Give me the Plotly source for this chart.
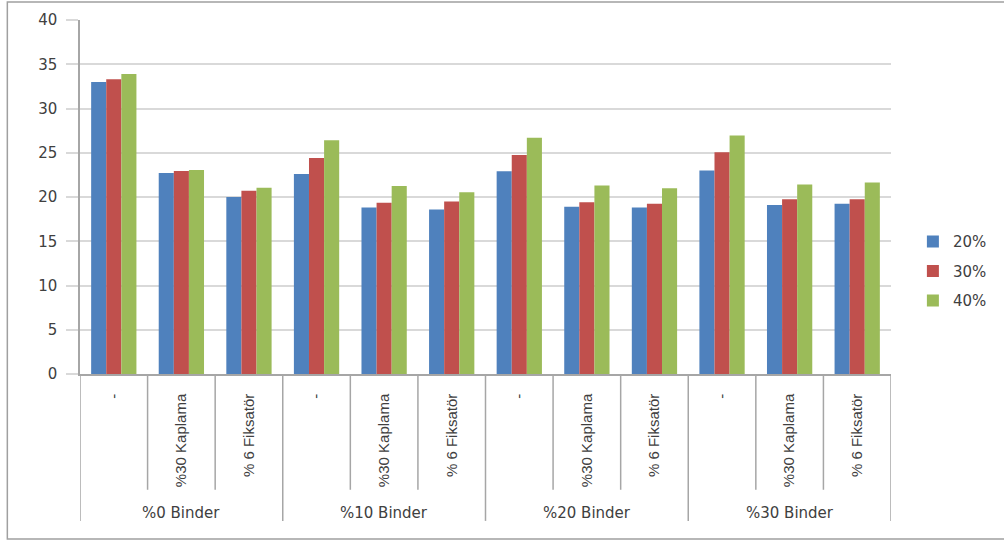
import plotly.graph_objects as go

groups = ["%0 Binder", "%10 Binder", "%20 Binder", "%30 Binder"]
subcats = ["-", "%30 Kaplama", "% 6 Fiksatör"]

series_names = ["20%", "30%", "40%"]
vals_20 = [33.0, 22.7, 20.0, 22.6, 18.8, 18.6, 22.9, 18.9, 18.8, 23.0, 19.1, 19.25]
vals_30 = [33.3, 22.95, 20.7, 24.4, 19.35, 19.5, 24.75, 19.4, 19.25, 25.05, 19.75, 19.75]
vals_40 = [33.9, 23.05, 21.05, 26.4, 21.25, 20.55, 26.7, 21.3, 21.0, 26.95, 21.4, 21.65]
colors = ["#4F81BD", "#C0504D", "#9BBB59"]

# one slot per (group, subcategory) pair
labels = [s for _ in groups for s in subcats]
pos = list(range(len(labels)))
n_sub = len(subcats)

AXIS_GRAY = "#A6A6A6"
TEXT = "#404040"

fig = go.Figure()
for name, vals, col in zip(series_names, [vals_20, vals_30, vals_40], colors):
    fig.add_trace(go.Bar(
        x=pos,
        y=vals,
        name=name,
        legendgroup=name,
        marker=dict(color=col, line=dict(width=0)),
    ))

fig.update_layout(
    width=1004,
    height=541,
    paper_bgcolor="white",
    plot_bgcolor="white",
    barmode="group",
    bargap=0.33,
    bargroupgap=0,
    margin=dict(l=80, r=109, t=20, b=167),
    font=dict(family="DejaVu Sans", size=14, color=TEXT),
    legend=dict(
        x=1.027, y=0.29, xanchor="left", yanchor="middle",
        font=dict(size=15, color=TEXT),
        traceorder="grouped",
        tracegroupgap=7,
        itemwidth=30,
    ),
)

fig.update_yaxes(
    range=[0, 40],
    dtick=5,
    showgrid=True,
    gridcolor="#D9D9D9",
    gridwidth=1.5,
    showline=True,
    linecolor=AXIS_GRAY,
    linewidth=1.5,
    ticks="outside",
    ticklen=12,
    tickcolor="#D9D9D9",
    tickwidth=1.5,
    ticklabelstandoff=6,
    tickfont=dict(size=15, color=TEXT),
    zeroline=False,
    automargin=False,
)
fig.update_xaxes(
    range=[-0.5, len(labels) - 0.5],
    tickmode="array",
    tickvals=pos,
    ticktext=labels,
    tickangle=-90,
    ticks="",
    ticklabelstandoff=12,
    tickfont=dict(family="Liberation Sans Narrow, Liberation Sans", size=15, color=TEXT),
    showline=True,
    linecolor=AXIS_GRAY,
    linewidth=1.5,
    showgrid=False,
    zeroline=False,
    automargin=False,
)

# category separators below the axis (short between subcategories, long between groups)
for k in range(len(labels) + 1):
    is_group_edge = k % n_sub == 0
    fig.add_shape(
        type="line", xref="x", yref="paper",
        x0=k - 0.5, x1=k - 0.5, y0=0, y1=-0.415 if is_group_edge else -0.327,
        line=dict(color=AXIS_GRAY, width=1.5),
    )

# group labels
for i, g in enumerate(groups):
    fig.add_annotation(
        x=i * n_sub + (n_sub - 1) / 2, y=-0.393, xref="x", yref="paper",
        text=g, showarrow=False, yanchor="middle",
        font=dict(family="DejaVu Sans", size=15, color=TEXT),
    )

# outer chart border (right edge falls outside the picture)
fig.add_shape(
    type="rect", xref="paper", yref="paper",
    x0=-0.0896, x1=1.16, y0=-0.466, y1=1.051,
    line=dict(color="#A0A0A0", width=1.5),
)

fig.write_html(
    "out.html",
    config={"displayModeBar": False},
    post_script="document.body.style.margin='0';",
)
